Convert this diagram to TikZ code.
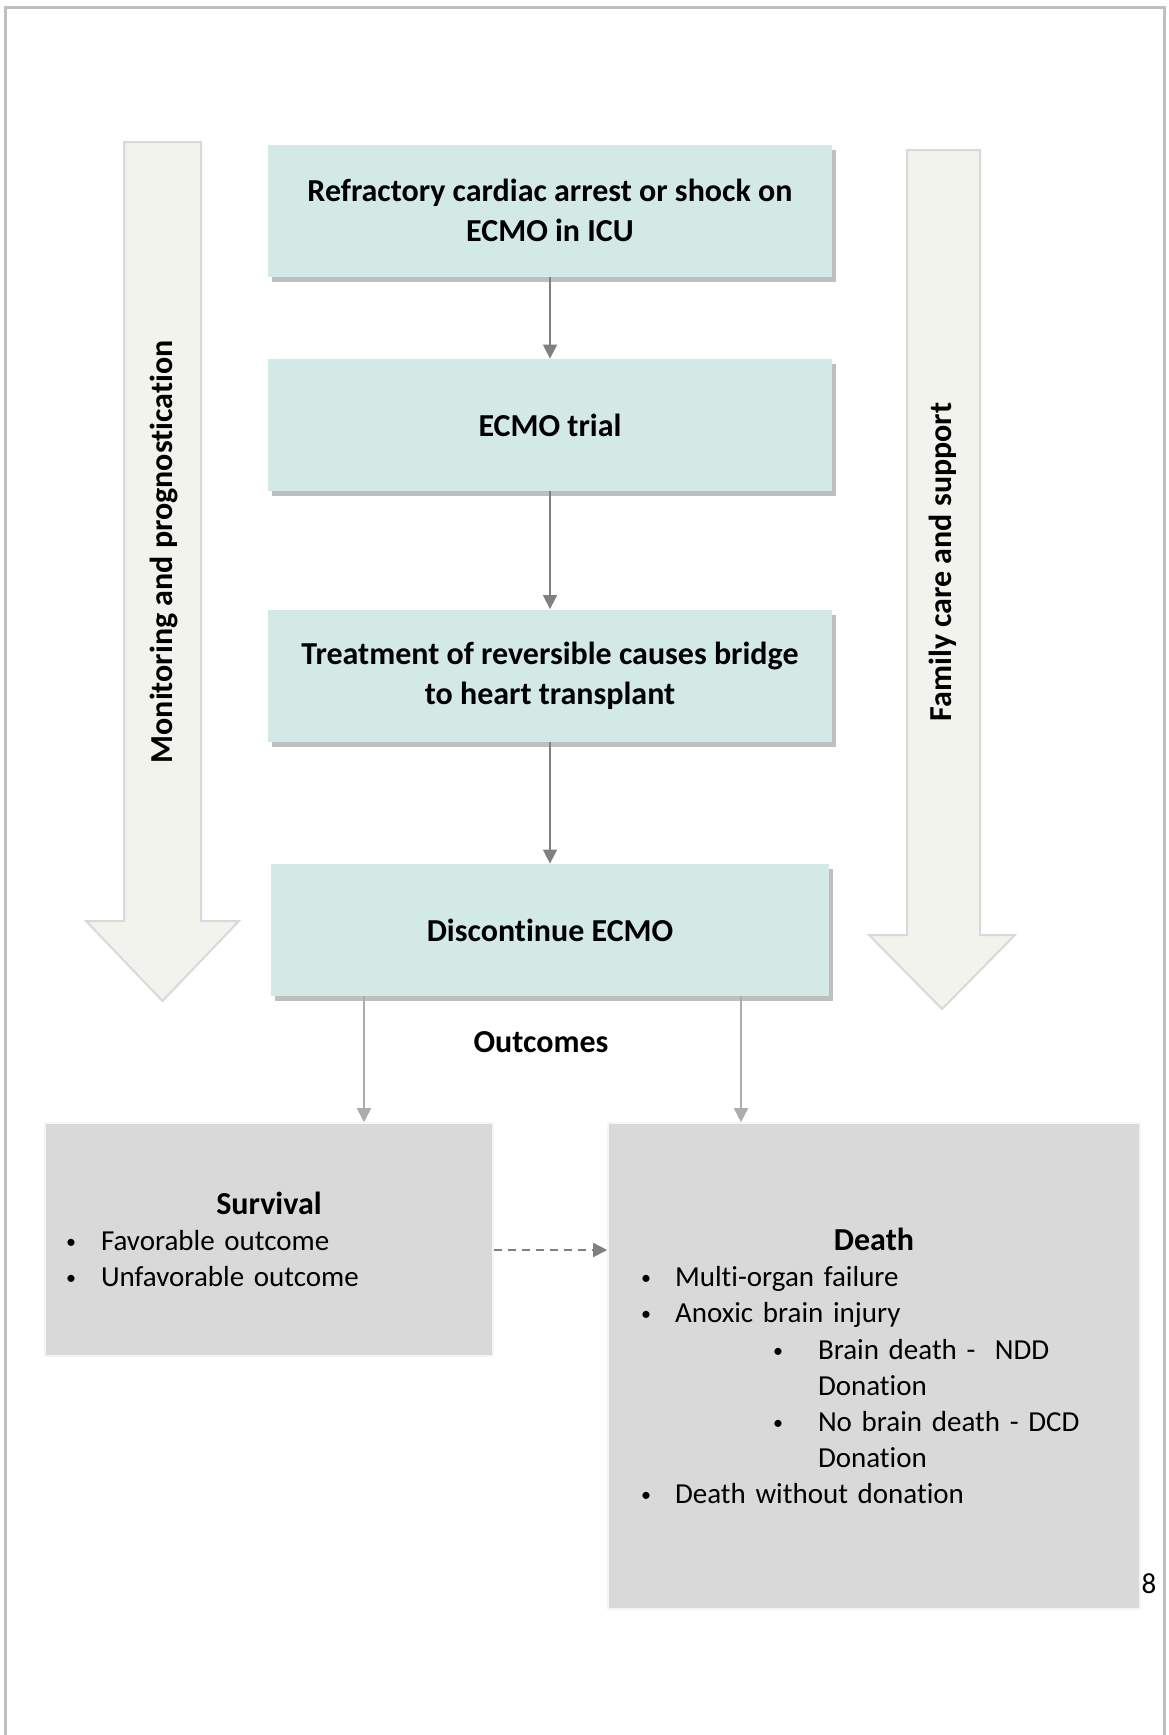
\documentclass[tikz,border=0pt]{standalone}
\usepackage{fontspec}
\setmainfont{Carlito}[Ligatures=NoCommon]
\usetikzlibrary{shadows,arrows.meta}
\definecolor{tealbox}{RGB}{211,233,229}
\definecolor{bigarrow}{RGB}{243,243,237}
\definecolor{outgray}{RGB}{217,217,217}
\definecolor{linegray}{RGB}{128,128,128}
\newcommand{\bul}[2][16pt]{\makebox[#1][l]{\hspace*{-1.5pt}\raisebox{1pt}{\fontsize{10}{10}\selectfont\textbullet}}#2}
\newcommand{\boxtitle}[1]{{\centering\fontsize{16}{19}\selectfont\bfseries #1\par}}
\begin{document}
\begin{tikzpicture}[x=0.5pt,y=-0.5pt,
    stepbox/.style={fill=tealbox, minimum width=282pt, minimum height=66pt, align=center,
        font=\fontsize{16}{20}\selectfont\bfseries,
        drop shadow={shadow xshift=2pt, shadow yshift=-2.5pt, fill=black, opacity=0.25}},
    outbox/.style={fill=outgray, draw=gray!8, line width=0.8pt, align=left,
        font=\fontsize{14.5}{18.1}\selectfont},
    flowline/.style={draw=linegray, line width=0.8pt, -{Triangle[width=7pt,length=7pt]}},
    sidearrow/.style={fill=bigarrow, draw=gray!30, line width=1pt},
    sidetext/.style={rotate=90, font=\fontsize{16}{19}\selectfont\bfseries}]
        \useasboundingbox (0,0) rectangle (1168,1735);
        \draw[gray!50, line width=1.5pt] (5,1735) -- (5,7) -- (1164,7) -- (1164,1735);
        % side arrows
        \filldraw[sidearrow] (124,142) -- (201,142) -- (201,921) -- (239,921) -- (162.5,1001) -- (86,921) -- (124,921) -- cycle;
        \node[sidetext] (monit) at (164,552) {Monitoring and prognostication};
        \filldraw[sidearrow] (907,150) -- (980,150) -- (980,935) -- (1015,935) -- (942,1009) -- (869,935) -- (907,935) -- cycle;
        \node[sidetext] (family) at (943,562) {Family care and support};
        % main steps
        \node[stepbox] (arrest) at (550,210.5) {Refractory cardiac arrest or shock on\\ECMO in ICU};
        \node[stepbox] (trial) at (550,425) {ECMO trial};
        \node[stepbox] (treat) at (550,675.5) {Treatment of reversible causes bridge\\to heart transplant};
        \node[stepbox, minimum width=279pt] (disc) at (550,930) {Discontinue ECMO};
        \draw[flowline] (arrest) -- (trial);
        \draw[flowline] (trial) -- (treat);
        \draw[flowline] (treat) -- (disc);
        \node[font=\fontsize{16}{19}\selectfont\bfseries] (outc) at (541,1042) {Outcomes};
        % outcomes
        \node[outbox, text width=200pt, inner xsep=12pt, minimum height=116.5pt] (surv) at (269,1239.5)
            {\boxtitle{Survival}\bul{Favorable outcome}\\\bul{Unfavorable outcome}};
        \node[outbox, text width=230pt, inner xsep=18pt, minimum height=243pt] (death) at (874,1366)
            {\boxtitle{Death}\bul[15.5pt]{Multi-organ failure}\\
            \bul[15.5pt]{Anoxic brain injury}\\
            \hspace*{66pt}\bul[21pt]{Brain death -\ \ NDD}\\
            \hspace*{87pt}Donation\\
            \hspace*{66pt}\bul[21pt]{No brain death - DCD}\\
            \hspace*{87pt}Donation\\
            \bul[15.5pt]{Death without donation}};
        \coordinate (sleft) at (364,0);
        \coordinate (dright) at (741,0);
        \coordinate (dashy) at (0,1250);
        \draw[flowline, draw=gray!65] (disc.south -| sleft) -- (surv.north -| sleft);
        \draw[flowline, draw=gray!65] (disc.south -| dright) -- (death.north -| dright);
        \draw[flowline, dash pattern=on 4pt off 3pt] (surv.east |- dashy) -- (death.west |- dashy);
        \node[font=\fontsize{14.5}{17}\selectfont] (page) at (1149,1584) {8};
    \end{tikzpicture}
\end{document}
